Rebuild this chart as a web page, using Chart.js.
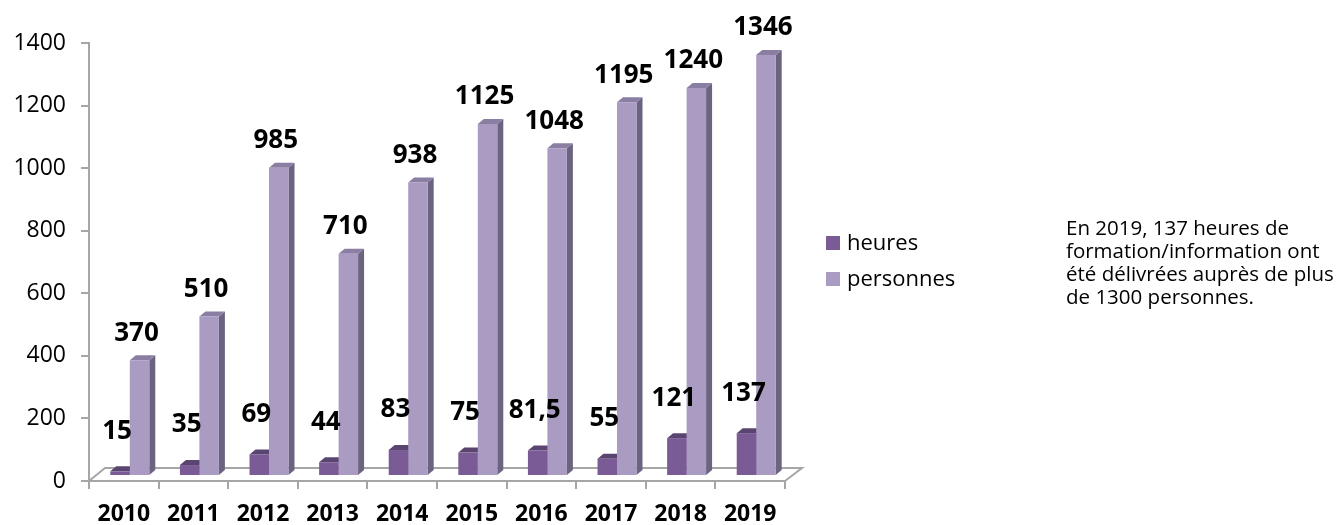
<!DOCTYPE html>
<html>
<head>
<meta charset="utf-8">
<script src="https://cdn.jsdelivr.net/npm/chart.js"></script>
<style>
	html, body { margin:0; padding:0; background:#fff; }
</style>
</head>
<body>
<canvas id="graphique" width="1341" height="525"></canvas>
<script>
	var annees = ["2010","2011","2012","2013","2014","2015","2016","2017","2018","2019"];
	var heures = [15, 35, 69, 44, 83, 75, 81.5, 55, 121, 137];
	var personnes = [370, 510, 985, 710, 938, 1125, 1048, 1195, 1240, 1346];
	var series = ["heures", "personnes"];
	var graduations = [0, 200, 400, 600, 800, 1000, 1200, 1400];
	var note = [
		"En 2019, 137 heures de",
		"formation/information ont",
		"été délivrées auprès de plus",
		"de 1300 personnes."
	];

	var couleurs = ["#7a5b96", "#a99bc2"];
	var cotes = ["#5e4676", "#6c6381"];
	var dessus = ["#5a4470", "#8a7ea2"];
	var gris = "#a6a6a6";
	var police = "'Open Sans', sans-serif";

	Chart.defaults.font.family = police;

	// decalage de la profondeur (effet 3D)
	var dx = 6, dy = -5;

	function nombre(v){
		return String(v).replace(".", ",");
	}

	var relief = {
		id: "relief",
		beforeDatasetsDraw: function(chart){
			var ctx = chart.ctx, a = chart.chartArea;
			ctx.save();
			ctx.strokeStyle = gris;
			ctx.lineWidth = 2;
			ctx.beginPath();
			ctx.moveTo(a.left, a.bottom);
			ctx.lineTo(a.left + 16, a.bottom - 13);
			ctx.lineTo(a.right + 17, a.bottom - 13);
			ctx.lineTo(a.right, a.bottom);
			ctx.stroke();
			ctx.translate(dx, dy);
			chart.data.datasets.forEach(function(ds, i){
				chart.getDatasetMeta(i).data.forEach(function(bar){
					var p = bar.getProps(["x","y","width","base"], true);
					var x0 = p.x - p.width/2, x1 = p.x + p.width/2;
					ctx.fillStyle = cotes[i];
					ctx.beginPath();
					ctx.moveTo(x1, p.y);
					ctx.lineTo(x1 + dx, p.y + dy);
					ctx.lineTo(x1 + dx, p.base + dy);
					ctx.lineTo(x1, p.base);
					ctx.closePath();
					ctx.fill();
					ctx.fillStyle = dessus[i];
					ctx.beginPath();
					ctx.moveTo(x0, p.y);
					ctx.lineTo(x0 + dx, p.y + dy);
					ctx.lineTo(x1 + dx, p.y + dy);
					ctx.lineTo(x1, p.y);
					ctx.closePath();
					ctx.fill();
				});
			});
			ctx.restore();
			ctx.save();
			ctx.translate(dx, dy);
		},
		afterDatasetsDraw: function(chart){
			var ctx = chart.ctx;
			ctx.restore();
			ctx.save();
			ctx.fillStyle = "#000";
			ctx.font = "bold 26px " + police;
			ctx.textAlign = "center";
			ctx.textBaseline = "middle";
			chart.data.datasets.forEach(function(ds, i){
				var ecart = i == 0 ? 40 : 27;
				chart.getDatasetMeta(i).data.forEach(function(bar, j){
					var p = bar.getProps(["x","y"], true);
					ctx.fillText(nombre(ds.data[j]), p.x + dx/2, p.y + dy - ecart);
				});
			});
			ctx.restore();
		},
		afterDraw: function(chart){
			var ctx = chart.ctx;
			ctx.save();
			ctx.textBaseline = "middle";
			ctx.textAlign = "left";
			ctx.font = "22px " + police;
			chart.data.datasets.forEach(function(ds, i){
				var y = 243 + i*36;
				ctx.fillStyle = ds.backgroundColor;
				ctx.fillRect(826, y - 7, 14, 14);
				ctx.fillStyle = "#000";
				ctx.fillText(ds.label, 847, y + 1);
			});
			ctx.font = "20.5px " + police;
			note.forEach(function(ligne, k){
				ctx.fillText(ligne, 1066, 229 + k*23);
			});
			ctx.restore();
		}
	};

	new Chart(document.getElementById("graphique"), {
		type: "bar",
		data: {
			labels: annees,
			datasets: [
				{ label: series[0], data: heures, backgroundColor: couleurs[0] },
				{ label: series[1], data: personnes, backgroundColor: couleurs[1] }
			]
		},
		options: {
			responsive: false,
			animation: false,
			devicePixelRatio: 1,
			categoryPercentage: 0.56,
			barPercentage: 1,
			layout: { padding: { left: 0, top: 43, right: 556, bottom: 0 } },
			plugins: {
				legend: { display: false },
				tooltip: { enabled: false }
			},
			scales: {
				x: {
					grid: { drawOnChartArea: false, tickLength: 8, color: gris, lineWidth: 2, offset: true },
					border: { color: gris, width: 2 },
					ticks: { color: "#000", font: { size: 23, weight: "bold" }, padding: 12 },
					afterFit: function(s){ s.height = 44; }
				},
				y: {
					min: 0,
					max: 1400,
					afterBuildTicks: function(s){
						s.ticks = graduations.map(function(v){ return { value: v }; });
					},
					grid: { drawOnChartArea: false, tickLength: 8, color: gris, lineWidth: 2 },
					border: { color: gris, width: 2 },
					ticks: {
						color: "#000",
						font: { size: 23 },
						padding: 15,
						callback: function(v){ return String(v); }
					},
					afterFit: function(s){ s.width = 89; }
				}
			}
		},
		plugins: [relief]
	});
</script>
</body>
</html>
